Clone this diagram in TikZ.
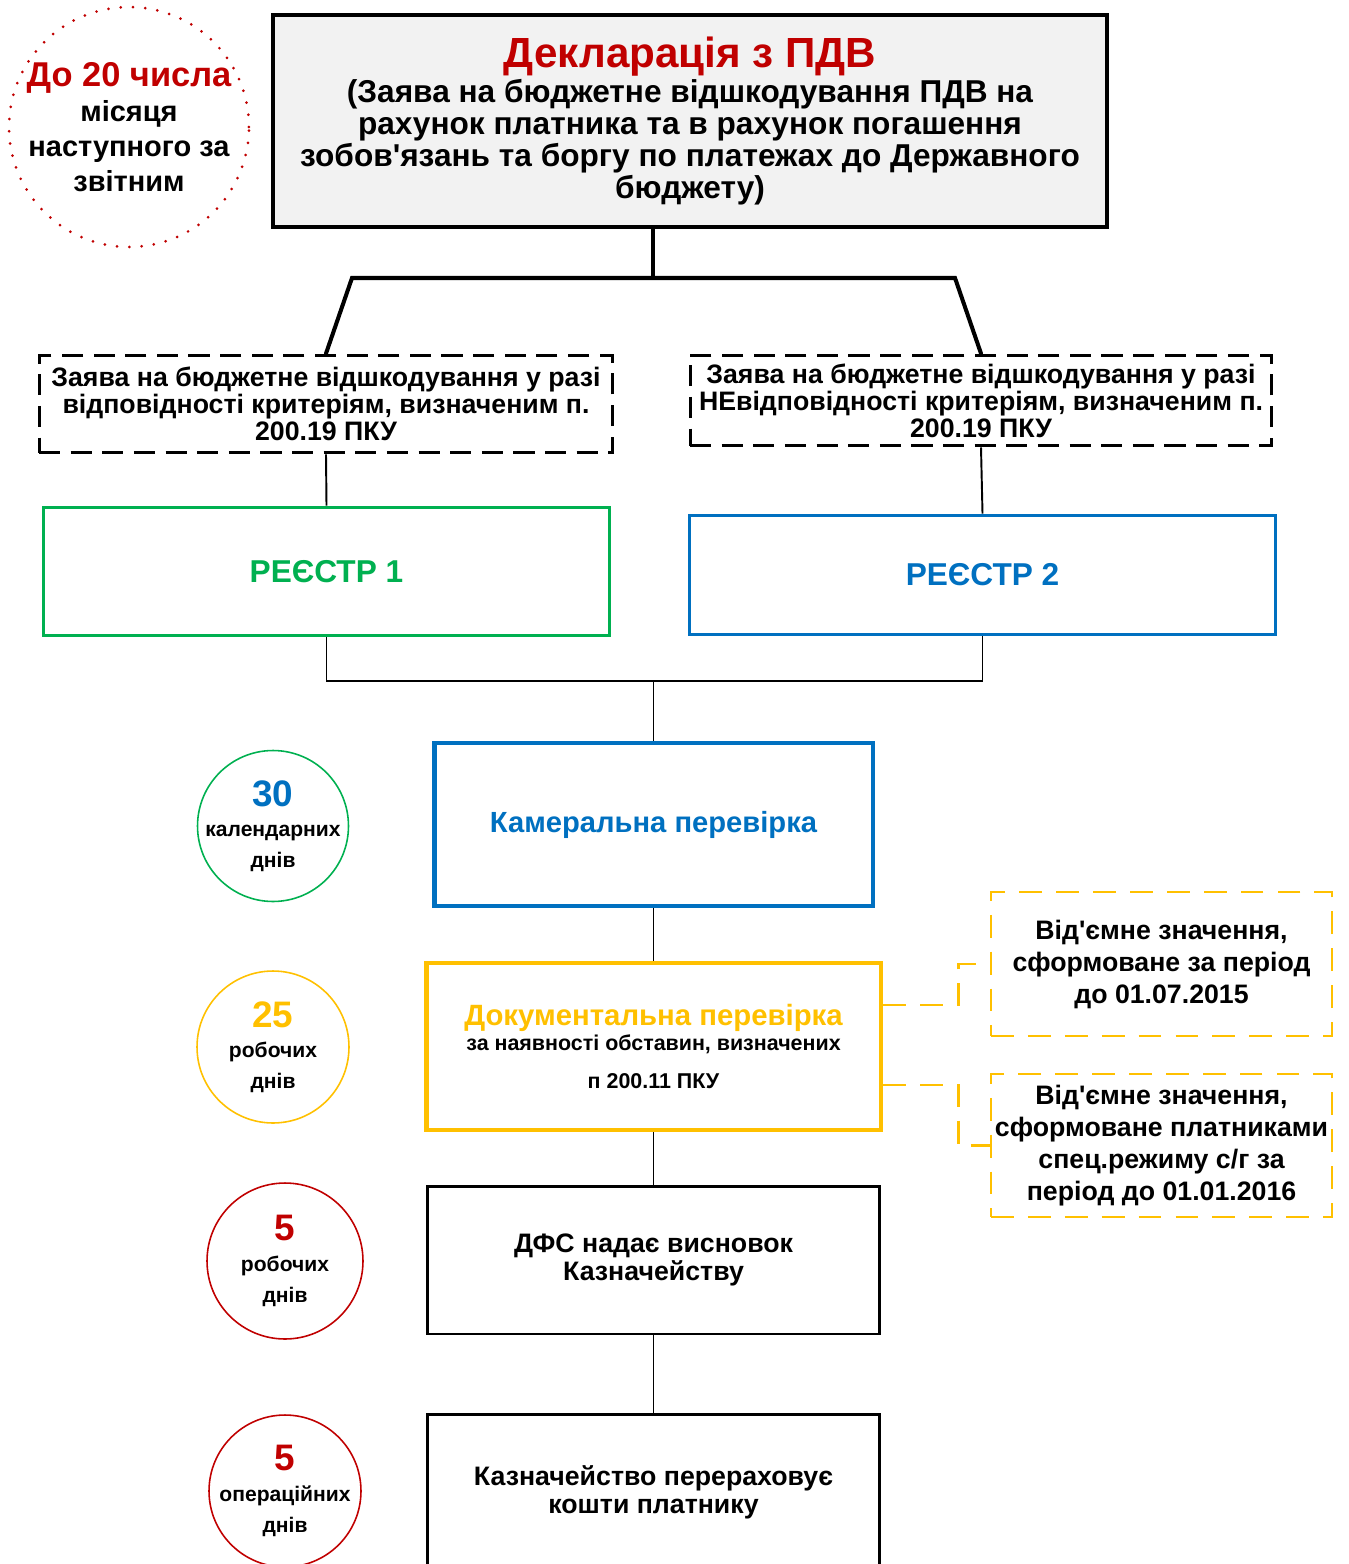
\documentclass[tikz,border=0pt]{standalone}
\usepackage{fontspec}
\setmainfont{Liberation Sans}[Ligatures=TeXOff]
\usetikzlibrary{shapes.geometric, positioning}
\definecolor{pdvred}{HTML}{C00000}
\definecolor{pdvgreen}{HTML}{00B050}
\definecolor{pdvblue}{HTML}{0070C0}
\definecolor{pdvyellow}{HTML}{FFC000}
\definecolor{pdvgray}{HTML}{F2F2F2}
\newcommand{\fs}[2]{\fontsize{#1}{#2}\selectfont}

\begin{document}
\begin{tikzpicture}[x=0.02cm, y=-0.02cm, font=\bfseries,
	box/.style={draw, rectangle, align=center, inner sep=0pt},
	dashbox/.style={box, line width=1.7pt, dash pattern=on 12pt off 6pt},
	negbox/.style={box, draw=pdvyellow, line width=1.6pt, dash pattern=on 13pt off 8pt,
		minimum width=6.82cm, font=\bfseries\fs{15.2}{18.2}},
	term/.style={draw, circle, align=center, inner sep=-8pt, line width=0.9pt, font=\bfseries\fs{12}{17.5}},
	link/.style={line width=1.1pt},
	thick link/.style={line width=2.3pt},
	ylink/.style={draw=pdvyellow, line width=1.6pt, dash pattern=on 13pt off 8pt}]
	\useasboundingbox (0,0) rectangle (1348,1564);

	\node[box, line width=2.3pt, fill=pdvgray, minimum width=16.68cm, minimum height=4.24cm,
		font=\bfseries\fs{18}{18.2}] (decl) at (690,121)
		{{\color{pdvred}\fs{24}{22}Декларація з ПДВ}\\[2pt]
		(Заява на бюджетне відшкодування ПДВ на\\
		рахунок платника та в рахунок погашення\\
		зобов'язань та боргу по платежах до Державного\\
		бюджету)};
	\node[circle, draw=pdvred, line width=1.7pt, line cap=round, dash pattern=on 0pt off 7pt,
		minimum size=4.8cm, inner sep=-10pt, align=center, font=\bfseries\fs{16.5}{20}] (deadline) at (129,127)
		{{\color{pdvred}\fs{19.6}{20}До 20 числа}\\місяця\\наступного за\\звітним};

	\node[dashbox, minimum width=11.48cm, minimum height=1.96cm, font=\bfseries\fs{15.2}{15.4}]
		(zayavaL) at (326,404)
		{Заява на бюджетне відшкодування у разі\\
		відповідності критеріям, визначеним п.\\
		200.19 ПКУ};
	\node[dashbox, minimum width=11.64cm, minimum height=1.82cm, font=\bfseries\fs{15.2}{15.4}]
		(zayavaR) at (981,400.5)
		{Заява на бюджетне відшкодування у разі\\
		НЕвідповідності критеріям, визначеним п.\\
		200.19 ПКУ};

	\node[box, draw=pdvgreen, line width=1.7pt, minimum width=11.34cm, minimum height=2.58cm,
		text=pdvgreen, font=\bfseries\fs{18}{20}] (reg1) at (326.5,571.5) {РЕЄСТР 1};
	\node[box, draw=pdvblue, line width=1.7pt, minimum width=11.74cm, minimum height=2.4cm,
		text=pdvblue, font=\bfseries\fs{18}{20}] (reg2) at (982.5,575) {РЕЄСТР 2};

	\node[box, draw=pdvblue, line width=2.8pt, minimum width=8.78cm, minimum height=3.26cm,
		text=pdvblue, font=\bfseries\fs{16.6}{20}] (kameral) at (653.5,824.5) {Камеральна перевірка};
	\node[box, draw=pdvyellow, line width=2.8pt, minimum width=9.1cm, minimum height=3.34cm,
		font=\bfseries\fs{12.2}{17.5}] (dokument) at (653.5,1046.5)
		{{\color{pdvyellow}\fs{16.7}{18}Документальна перевірка}\\[-3pt]
		за наявності обставин, визначених\\[4pt]
		п 200.11 ПКУ};
	\node[box, line width=1.7pt, minimum width=9.06cm, minimum height=2.96cm,
		font=\bfseries\fs{15.2}{15.8}] (dfs) at (653.5,1260)
		{ДФС надає висновок\\Казначейству};
	\node[box, line width=1.7pt, minimum width=9.06cm, minimum height=3.12cm,
		font=\bfseries\fs{15.2}{15.8}] (kazn) at (653.5,1492)
		{Казначейство перераховує\\кошти платнику};

	\node[negbox, minimum height=2.88cm] (negA) at (1161.5,964)
		{Від'ємне значення,\\сформоване за період\\до 01.07.2015};
	\node[negbox, minimum height=2.86cm] (negB) at (1161.5,1145.5)
		{Від'ємне значення,\\сформоване платниками\\спец.режиму с/г за\\період до 01.01.2016};

	\node[term, draw=pdvgreen, minimum size=3.02cm] (days30) at (273,826)
		{{\color{pdvblue}\fs{21}{22}30}\\календарних\\днів};
	\node[term, draw=pdvyellow, minimum size=3.04cm] (days25) at (273,1047)
		{{\color{pdvyellow}\fs{21}{22}25}\\робочих\\днів};
	\node[term, draw=pdvred, minimum size=3.12cm] (days5a) at (285,1261)
		{{\color{pdvred}\fs{21}{22}5}\\робочих\\днів};
	\node[term, draw=pdvred, minimum size=3.04cm] (days5b) at (285,1491)
		{{\color{pdvred}\fs{21}{22}5}\\операційних\\днів};

	\coordinate (split) at (653,278);
	\coordinate (splitL) at (352,278);
	\coordinate (splitR) at (955,278);
	\draw[thick link] (decl.south -| split) -- (split);
	\draw[thick link, line cap=round] (zayavaL.north) -- (splitL) -- (splitR) -- (zayavaR.north);
	\draw[link] (zayavaL.south) -- (reg1.north);
	\draw[link] (zayavaR.south) -- (reg2.north);

	\coordinate (mergeL) at (326.5,681);
	\coordinate (mergeR) at (982.5,681);
	\coordinate (merge) at (653.5,681);
	\draw[link] (reg1.south) -- (mergeL) -- (mergeR) -- (reg2.south);
	\draw[link] (merge) -- (kameral.north);
	\draw[link] (kameral.south) -- (dokument.north);
	\draw[link] (dokument.south) -- (dfs.north);
	\draw[link] (dfs.south) -- (kazn.north);

	\draw[ylink] (dokument.east |- {(0,1005)}) -- ++(75,0) |- (negA.west);
	\draw[ylink] (dokument.east |- {(0,1085)}) -- ++(75,0) |- (negB.west);
\end{tikzpicture}
\end{document}
